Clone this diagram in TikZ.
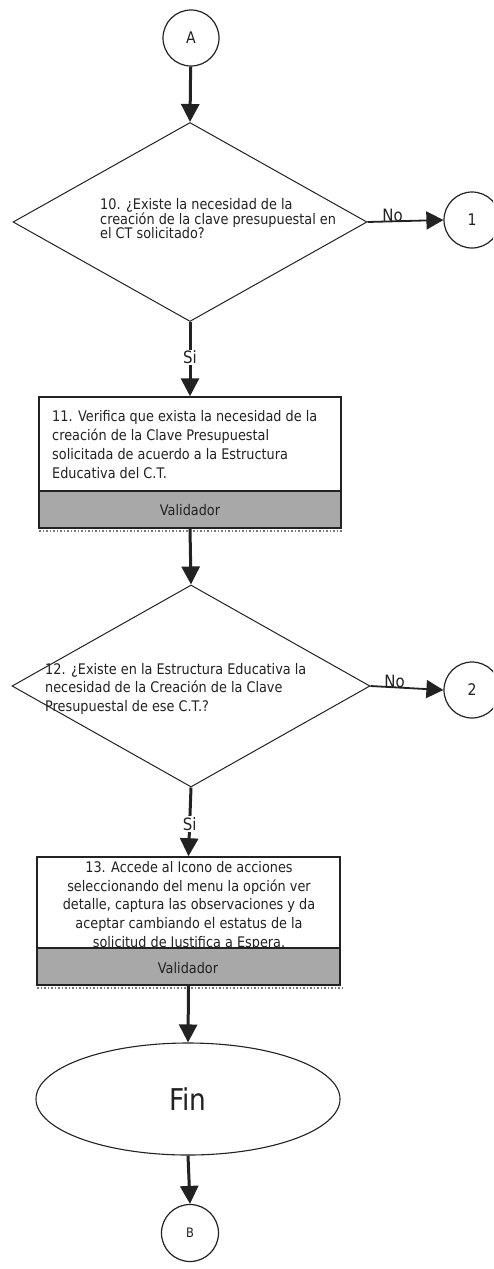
\documentclass[tikz,border=0pt]{standalone}
\usepackage{fontspec}
\setmainfont{DejaVu Sans}
\newfontfamily\narrowfont[FakeStretch=0.88]{DejaVu Sans}
\usetikzlibrary{shapes.geometric,arrows.meta}
\definecolor{ink}{HTML}{222222}
\definecolor{band}{HTML}{A8A8A8}
\tikzset{
  conn/.style={draw=ink, line width=3pt, -{Triangle[length=18pt,width=18pt]}},
  noconn/.style={draw=ink, line width=1.8pt, -{Triangle[length=17pt,width=18pt]}},
  conncirc/.style={circle, draw=ink, line width=1.2pt, minimum size=56pt, inner sep=0pt, font=\narrowfont\fontsize{16}{16}\selectfont, text=ink},
  decision/.style={diamond, draw=ink, line width=1pt, inner sep=0pt},
  stepbox/.style={rectangle, draw=ink, line width=1.5pt, inner sep=0pt},
  steptext/.style={font=\narrowfont\fontsize{14.6}{19}\selectfont, inner sep=0pt, text=ink},
  lbl/.style={font=\narrowfont\fontsize{17}{17}\selectfont, fill=white, inner sep=1pt, text=ink},
  terminal/.style={ellipse, draw=ink, line width=1.1pt, inner sep=0pt, font=\narrowfont\fontsize{30}{30}\selectfont, text=ink}
}
\begin{document}
\begin{tikzpicture}[x=1pt, y=-1pt]
\useasboundingbox (0,0) rectangle (493,1269);
\fill[white] (0,0) rectangle (493,1269);
\clip (0,0) rectangle (493,1269);

% connector A
\node[conncirc] (A) at (191,38) {A};

% decision 10
\node[decision, minimum width=354pt, minimum height=199pt] (d10) at (190,222) {};
\node[steptext, anchor=north west, align=left, font=\narrowfont\fontsize{14.6}{14.8}\selectfont] (t10) at (100,198)
  {10. ¿Existe la necesidad de la\\creación de la clave presupuestal en\\el CT solicitado?};
\node[conncirc] (c1) at (472,220) {1};

% box 11
\node[stepbox, minimum width=302pt, minimum height=131pt] (b11) at (190,462.5) {};
\fill[band] (39,491) rectangle (341,528);
\draw[ink, line width=1.5pt] (39,397) rectangle (341,528);
\draw[ink, line width=1.2pt] (39,491) -- (341,491);
\draw[ink!60, line width=1.5pt, dotted] (39,531) -- (343,531);
\node[steptext, anchor=north west, align=left] (t11) at (52,410)
  {11. Verifica que exista la necesidad de la\\creación de la Clave Presupuestal\\solicitada de acuerdo a la Estructura\\Educativa del C.T.};
\node[steptext] (v11) at (190,510) {Validador};

% decision 12
\node[decision, minimum width=358pt, minimum height=202pt] (d12) at (191,686) {};
\node[steptext, anchor=north west, align=left, font=\narrowfont\fontsize{14.6}{18.5}\selectfont] (t12) at (45,663)
  {12. ¿Existe en la Estructura Educativa la\\necesidad de la Creación de la Clave\\Presupuestal de ese C.T.?};
\node[conncirc] (c2) at (472,690) {2};

% box 13
\node[stepbox, minimum width=303pt, minimum height=128pt] (b13) at (188.5,921) {};
\begin{scope}
\clip (37,857) rectangle (340,948);
\node[steptext, anchor=north, align=center, font=\narrowfont\fontsize{14.6}{18.8}\selectfont] (t13) at (189,861)
  {13. Accede al Icono de acciones\\seleccionando del menu la opción ver\\detalle, captura las observaciones y da\\aceptar cambiando el estatus de la\\solicitud de Justifica a Espera.};
\end{scope}
\fill[band] (37,948) rectangle (340,985);
\draw[ink, line width=1.5pt] (37,857) rectangle (340,985);
\draw[ink, line width=1.2pt] (37,948) -- (340,948);
\draw[ink!60, line width=1.5pt, dotted] (37,988) -- (342,988);
\node[steptext] (v13) at (188,968) {Validador};

% terminal
\node[terminal, minimum width=304pt, minimum height=112pt] (fin) at (188,1099) {Fin};

% connector B
\node[conncirc, minimum size=57pt, font=\narrowfont\fontsize{13}{13}\selectfont] (B) at (190,1233) {B};

% connectors
\draw[conn] (A) -- (d10.north);
\draw[noconn] (d10.east) -- node[lbl, pos=0.33, yshift=6pt, fill=none] {No} (c1.west);
\draw[conn] (d10.south) -- node[lbl, pos=0.48] {Si} (b11.north);
\draw[conn] (b11.south) -- (d12.north);
\draw[noconn] (d12.east) -- node[lbl, pos=0.33, yshift=6pt, fill=none] {No} (c2.west);
\draw[conn] (d12.south) -- node[lbl, pos=0.53] {Si} (b13.north);
\draw[conn] (b13.south) -- (fin.north);
\draw[conn] (fin.south) -- (B.north);
\end{tikzpicture}
\end{document}
